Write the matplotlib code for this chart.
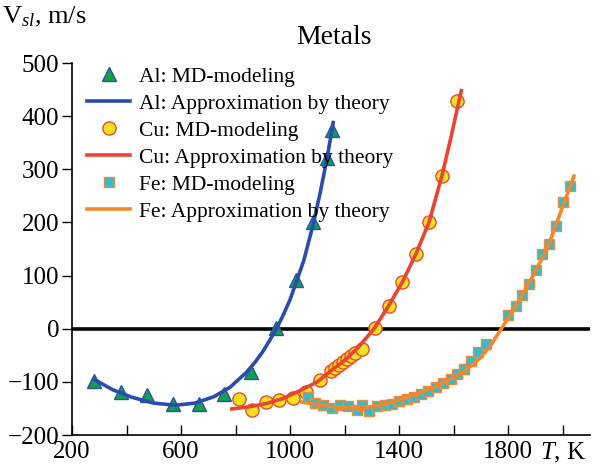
import numpy as np
import matplotlib
matplotlib.use("Agg")
import matplotlib.pyplot as plt

plt.rcParams['font.family'] = ['Liberation Serif', 'DejaVu Serif']
plt.rcParams['mathtext.fontset'] = 'custom'
plt.rcParams['mathtext.rm'] = 'Liberation Serif'
plt.rcParams['mathtext.it'] = 'Liberation Serif:italic'

# Al: MD points and theory curve
al_T = [282, 381, 476, 571, 666, 758, 856, 949, 1023, 1084, 1136, 1154]
al_V = [-99, -119, -125, -141, -141, -123, -81, 2, 92, 200, 321, 374]
al_fit_T = [280, 350, 420, 500, 580, 650, 720, 780, 840, 870, 900, 925, 950, 975, 1000,
            1050, 1084, 1110, 1136, 1158]
al_fit_V = [-95, -115, -129, -140, -144, -140, -128, -110, -82, -64, -43, -22, 0, 26, 55,
            128, 195, 255, 322, 388]

# Cu
cu_T = [811, 862, 911, 960, 1011, 1060, 1109, 1150, 1165, 1180, 1194, 1209, 1224, 1238, 1264,
        1312, 1361, 1412, 1461, 1510, 1558, 1611]
cu_V = [-133, -152, -137, -135, -131, -119, -97, -79, -73, -68, -62, -57, -51, -46, -39,
        2, 43, 88, 140, 201, 288, 429]
cu_fit_T = [786, 850, 911, 970, 1030, 1100, 1155, 1204, 1250, 1308, 1360, 1412, 1461, 1510, 1558, 1590, 1628]
cu_fit_V = [-151, -147, -141, -132, -118, -100, -77, -58, -35, 0, 42, 88, 140, 201, 290, 360, 448]

# Fe
fe_T = [1064, 1092, 1121, 1153, 1182, 1214, 1247, 1265, 1290, 1320, 1348, 1375, 1400, 1427,
        1455, 1479, 1507, 1534, 1561, 1589, 1613, 1638, 1663, 1690, 1718, 1800, 1828, 1850,
        1876, 1901, 1925, 1950, 1974, 2002, 2027]
fe_V = [-128, -140, -143, -150, -143, -146, -152, -143, -155, -146, -144, -142, -136, -132,
        -128, -123, -117, -110, -102, -94, -85, -76, -60, -43, -29, 25, 42, 63,
        84, 111, 140, 160, 193, 239, 268]
fe_fit_T = [1043, 1100, 1160, 1220, 1280, 1340, 1400, 1460, 1520, 1580, 1640, 1700, 1740, 1775,
            1810, 1850, 1900, 1950, 2000, 2041]
fe_fit_V = [-138, -143, -147, -149, -148, -143, -134, -124, -112, -97, -80, -54, -28, 0,
            28, 62, 108, 160, 230, 287]

x_ticks = [200, 400, 600, 800, 1000, 1200, 1400, 1600, 1800, 2000]
x_labels = ['200', '', '600', '', '1000', '', '1400', '', '1800', '$T$, K']
y_ticks = [-200, -100, 0, 100, 200, 300, 400, 500]

fig = plt.figure(figsize=(5.98, 4.66), dpi=100)
ax = fig.add_axes([0.1204, 0.0665, 0.8662, 0.7983])

ax.axhline(0, color='black', lw=2.6, zorder=1)

ax.plot(al_T, al_V, '^', ms=10, mfc='#12a046', mec='#2a4fb0', mew=1.0, ls='none',
        label='Al: MD-modeling', zorder=2)
ax.plot(al_fit_T, al_fit_V, color='#2a4bb0', lw=2.6, label='Al: Approximation by theory', zorder=3)
ax.plot(cu_T, cu_V, 'o', ms=9.5, mfc='#f2e21e', mec='#ea4a2e', mew=1.0, ls='none',
        label='Cu: MD-modeling', zorder=2)
ax.plot(cu_fit_T, cu_fit_V, color='#ea4431', lw=2.6, label='Cu: Approximation by theory', zorder=3)
ax.plot(fe_T, fe_V, 's', ms=7.5, mfc='#2dbfcf', mec='#f4883a', mew=1.0, ls='none',
        label='Fe: MD-modeling', zorder=2)
ax.plot(fe_fit_T, fe_fit_V, color='#f5862a', lw=2.6, label='Fe: Approximation by theory', zorder=3)

ax.set_xlim(200, 2100)
ax.set_ylim(-200, 500)
ax.set_xticks(x_ticks)
ax.set_xticklabels(x_labels)
ax.set_yticks(y_ticks)
ax.set_yticklabels([str(v).replace('-', '\u2212') for v in y_ticks])
ax.tick_params(axis='x', direction='in', length=7, width=1.0, labelsize=18, pad=4)
ax.tick_params(axis='y', direction='out', length=7, width=1.0, labelsize=18, pad=2)
for s in ['top', 'right']:
    ax.spines[s].set_visible(False)
for s in ['left', 'bottom']:
    ax.spines[s].set_linewidth(1.2)

fig.text(334 / 598, 1 - 38 / 466, 'Metals', fontsize=20, ha='center', va='center')
fig.text(0.004, 1 - 17 / 466, 'V$_{sl}$, m/s', fontsize=19, ha='left', va='center')

leg = ax.legend(loc='upper left', bbox_to_anchor=(0.0, 1.03), frameon=False, fontsize=15.5,
                handlelength=2.0, handletextpad=0.4, labelspacing=0.32, borderaxespad=0.3)

fig.savefig('out.png', dpi=100)
